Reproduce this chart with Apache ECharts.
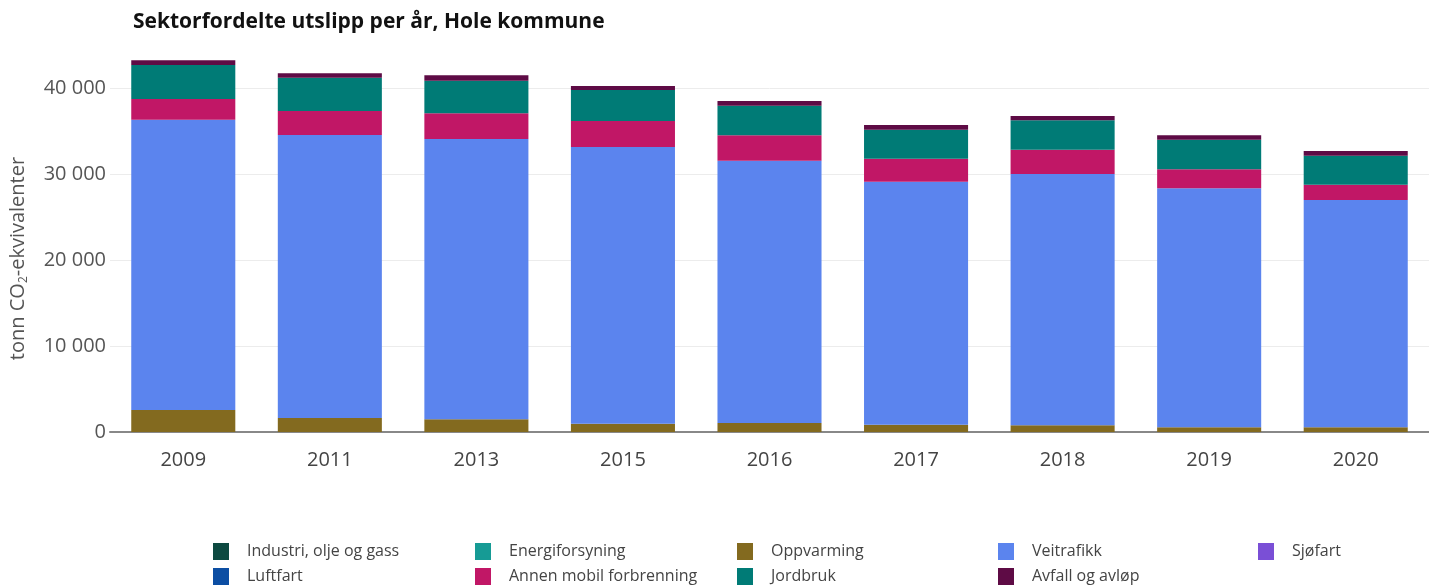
<!DOCTYPE html>
<html>
<head>
<meta charset="utf-8">
<script src="https://cdn.jsdelivr.net/npm/echarts@6/dist/echarts.min.js"></script>
<style>
  html, body { margin: 0; padding: 0; background: #fff; }
  #chart { width: 1429px; height: 585px; }
</style>
</head>
<body>
<div id="chart"></div>
<script>
// år
var years = ['2009', '2011', '2013', '2015', '2016', '2017', '2018', '2019', '2020'];

// utslipp per sektor (tonn CO2-ekv.)
var industri       = [0, 0, 0, 0, 0, 0, 0, 0, 0];
var energiforsyning = [0, 0, 0, 0, 0, 0, 0, 0, 0];
var oppvarming     = [2560, 1630, 1470, 970, 1050, 850, 780, 550, 550];
var veitrafikk     = [33760, 32900, 32600, 32170, 30500, 28250, 29220, 27790, 26430];
var sjofart        = [0, 0, 0, 0, 0, 0, 0, 0, 0];
var luftfart       = [0, 0, 0, 0, 0, 0, 0, 0, 0];
var annenMobil     = [2400, 2800, 2980, 3020, 2950, 2680, 2830, 2210, 1780];
var jordbruk       = [3950, 3870, 3800, 3610, 3440, 3370, 3410, 3440, 3370];
var avfall         = [550, 510, 620, 460, 550, 550, 500, 510, 540];

var yTicks = [0, 10000, 20000, 30000, 40000];

var sektorer = [
    { name: 'Industri, olje og gass', data: industri, color: '#0d4a41' },
    { name: 'Energiforsyning', data: energiforsyning, color: '#169b95' },
    { name: 'Oppvarming', data: oppvarming, color: '#836a1f' },
    { name: 'Veitrafikk', data: veitrafikk, color: '#5b84ee' },
    { name: 'Sjøfart', data: sjofart, color: '#7a4fd6' },
    { name: 'Luftfart', data: luftfart, color: '#0c4ea3' },
    { name: 'Annen mobil forbrenning', data: annenMobil, color: '#c11766' },
    { name: 'Jordbruk', data: jordbruk, color: '#007b76' },
    { name: 'Avfall og avløp', data: avfall, color: '#5e0b45' }
];

function fmt(v) {
    return String(v).replace(/\B(?=(\d{3})+(?!\d))/g, ' ');
}

var chart = echarts.init(document.getElementById('chart'));

// legend: 5 kolonner, 2 rader
var legendCols = [213, 475, 737, 998, 1258];
var legends = legendCols.map(function (x, i) {
    var names = [sektorer[i].name];
    if (sektorer[i + 5]) names.push(sektorer[i + 5].name);
    return {
        data: names,
        orient: 'vertical',
        left: x,
        top: 543,
        height: 43,
        padding: 0,
        itemWidth: 16,
        itemHeight: 17,
        itemGap: 8,
        icon: 'rect',
        selectedMode: false,
        textStyle: { fontFamily: 'Open Sans', fontSize: 16, color: '#444', padding: [0, 0, 0, 13] }
    };
});

chart.setOption({
    animation: false,
    title: {
        text: 'Sektorfordelte utslipp per år, Hole kommune',
        left: 128,
        top: 7,
        textStyle: { fontFamily: 'Open Sans', fontSize: 21, fontWeight: 'bold', color: '#111' }
    },
    legend: legends,
    grid: { left: 110, top: 45, width: 1328, bottom: 153 },
    xAxis: {
        type: 'category',
        data: years,
        axisTick: { show: false },
        axisLine: { lineStyle: { color: '#888', width: 2 } },
        axisLabel: { fontFamily: 'Open Sans', fontSize: 20, color: '#444', margin: 18 }
    },
    yAxis: {
        type: 'value',
        min: yTicks[0],
        max: 45000,
        interval: 10000,
        name: 'tonn CO{sub|2}-ekvivalenter',
        nameLocation: 'middle',
        nameGap: 80,
        nameTextStyle: {
            fontFamily: 'Open Sans', fontSize: 20, color: '#555',
            padding: [0, 40, 0, 0],
            rich: { sub: { fontFamily: 'Open Sans', fontSize: 12, color: '#555', verticalAlign: 'bottom', padding: [12, 0, 0, 0] } }
        },
        axisLabel: {
            fontFamily: 'Open Sans', fontSize: 20, color: '#555', margin: 4,
            showMaxLabel: false,
            formatter: function (v) { return yTicks.indexOf(v) >= 0 ? fmt(v) : ''; }
        },
        splitLine: { showMaxLine: false, lineStyle: { color: '#ececec', width: 1 } }
    },
    series: sektorer.map(function (s) {
        return {
            name: s.name,
            type: 'bar',
            stack: 'total',
            barWidth: '71%',
            data: s.data,
            itemStyle: { color: s.color }
        };
    })
});
</script>
</body>
</html>
